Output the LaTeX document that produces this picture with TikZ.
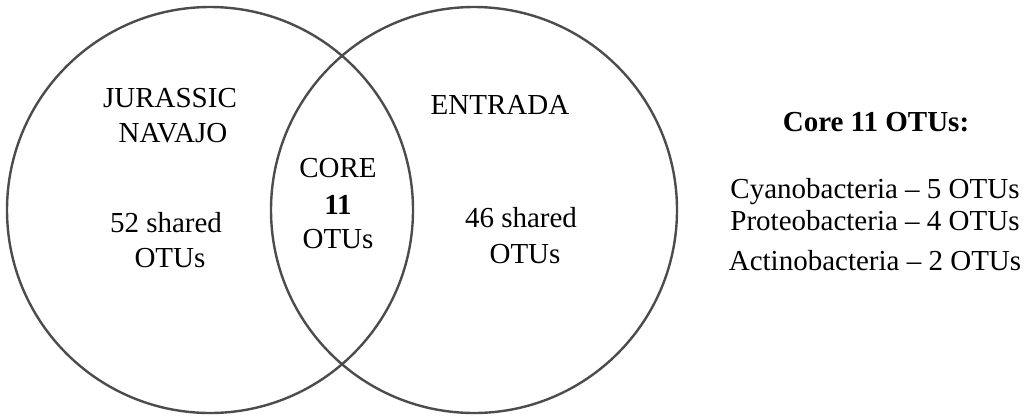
\documentclass[tikz,border=0pt]{standalone}
\usepackage{fontspec}
\setmainfont{Liberation Serif}
\tikzset{
  ring/.style={draw=black!70, line width=2.4pt},
  lbl/.style={anchor=base, inner sep=0pt, font=\fontsize{29}{35}\selectfont},
  boldlbl/.style={lbl, font=\fontsize{29}{35}\selectfont\bfseries}
}
\begin{document}
\begin{tikzpicture}[x=1pt, y=-1pt]
    \useasboundingbox (0,0) rectangle (1032,415);

    % Two sets
    \draw[ring] (210,210) circle [radius=203pt];
    \draw[ring] (474,210) circle [radius=203pt];

    % Left set
    \node[lbl] (jurassic) at (170,107) {JURASSIC};
    \node[lbl] (navajo) at (173,142) {NAVAJO};
    \node[lbl] (leftN) at (166,232) {52 shared};
    \node[lbl] (leftOtus) at (170,267) {OTUs};

    % Right set
    \node[lbl] (entrada) at (500,114) {ENTRADA};
    \node[lbl] (rightN) at (521,227) {46 shared};
    \node[lbl] (rightOtus) at (525,263) {OTUs};

    % Overlap
    \node[lbl] (core) at (338,177) {CORE};
    \node[boldlbl] (coreN) at (338,214) {11};
    \node[lbl] (coreOtus) at (338,248) {OTUs};

    % Core list
    \node[boldlbl] (listHead) at (876,131) {Core 11 OTUs:};
    \node[lbl] (cyano) at (875,198) {Cyanobacteria -- 5 OTUs};
    \node[lbl] (proteo) at (875,230) {Proteobacteria -- 4 OTUs};
    \node[lbl] (actino) at (875,270) {Actinobacteria -- 2 OTUs};
\end{tikzpicture}
\end{document}
